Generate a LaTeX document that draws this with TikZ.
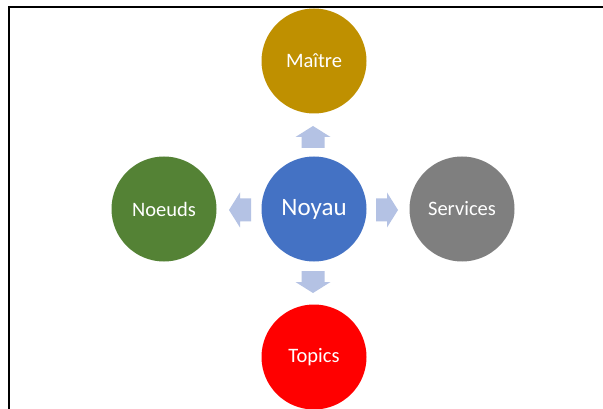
\documentclass[tikz,border=0pt]{standalone}
\usepackage{fontspec}
\setmainfont{Carlito}
\usetikzlibrary{calc}
\definecolor{cMaitre}{HTML}{BF9000}
\definecolor{cNoyau}{HTML}{4472C4}
\definecolor{cNoeuds}{HTML}{548235}
\definecolor{cServices}{HTML}{7F7F7F}
\definecolor{cTopics}{HTML}{FF0000}
\definecolor{cArrow}{HTML}{B4C2E4}
\tikzset{
  bubble/.style={circle, minimum size=105pt, inner sep=0pt, text=white, font=\fontsize{20.5}{24}\selectfont},
  barrow/.pic={\fill[cArrow] (-11,-11.5) -- (0,-11.5) -- (0,-17.5) -- (11,0) -- (0,17.5) -- (0,11.5) -- (-11,11.5) -- cycle;},
  frame/.style={line width=2pt, black}
}
\begin{document}
\begin{tikzpicture}[x=1pt,y=-1pt]
\useasboundingbox (0,0) rectangle (603,409);
\fill[white] (0,0) rectangle (603,409);
\begin{scope}
\clip (0,0) rectangle (603,409);
\node[bubble, fill=cMaitre] (maitre) at (314,61) {Maître};
\node[bubble, fill=cNoyau, font=\fontsize{25}{30}\selectfont] (noyau) at (314,209) {Noyau};
\node[bubble, fill=cNoeuds] (noeuds) at (164,209) {Noeuds};
\node[bubble, fill=cServices] (services) at (462,209) {Services};
\node[bubble, fill=cTopics] (topics) at (314,357) {Topics};
\pic[rotate=90] at (313,137) {barrow};
\pic[rotate=180] at (240,210) {barrow};
\pic at (387,210) {barrow};
\pic[rotate=-90] at (313,282) {barrow};
\draw[frame] (9,409) -- (9,7.5) -- (603,7.5);
\end{scope}
\end{tikzpicture}
\end{document}
